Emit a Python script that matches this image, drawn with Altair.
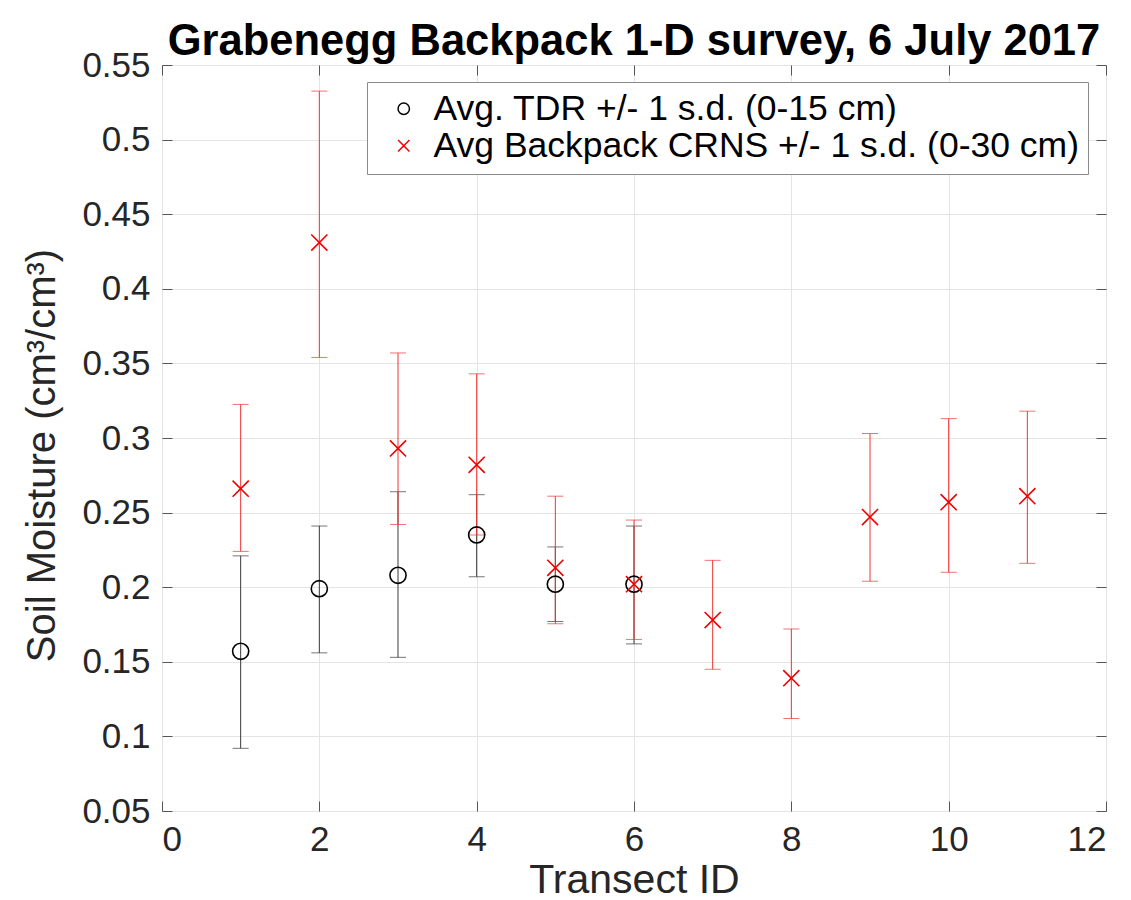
import altair as alt
import pandas as pd

# ---- data ----
series_names = ["Avg. TDR +/- 1 s.d. (0-15 cm)", "Avg Backpack CRNS +/- 1 s.d. (0-30 cm)"]

tdr_transect = [1, 2, 3, 4, 5, 6]
tdr_mean = [0.157, 0.199, 0.208, 0.235, 0.202, 0.202]
tdr_lower = [0.092, 0.156, 0.153, 0.207, 0.177, 0.162]
tdr_upper = [0.221, 0.241, 0.264, 0.262, 0.227, 0.241]

crns_transect = [1, 2, 3, 4, 5, 6, 7, 8, 9, 10, 11]
crns_mean = [0.266, 0.431, 0.293, 0.282, 0.213, 0.202, 0.178, 0.139, 0.247, 0.257, 0.261]
crns_lower = [0.224, 0.354, 0.242, 0.235, 0.1755, 0.165, 0.145, 0.112, 0.204, 0.210, 0.216]
crns_upper = [0.3225, 0.5325, 0.357, 0.343, 0.261, 0.245, 0.218, 0.172, 0.303, 0.313, 0.318]

x_ticks = [0, 2, 4, 6, 8, 10, 12]
y_ticks = [0.05, 0.1, 0.15, 0.2, 0.25, 0.3, 0.35, 0.4, 0.45, 0.5, 0.55]

rows = []
for t, m, lo, hi in zip(tdr_transect, tdr_mean, tdr_lower, tdr_upper):
    rows.append({"series": series_names[0], "transect": t, "mean": m, "lower": lo, "upper": hi})
for t, m, lo, hi in zip(crns_transect, crns_mean, crns_lower, crns_upper):
    rows.append({"series": series_names[1], "transect": t, "mean": m, "lower": lo, "upper": hi})
df = pd.DataFrame(rows)

FONT = "Liberation Sans"
X_PATH = "M-1,-1L1,1M-1,1L1,-1"
series_colors = ["#000000", "#f00000"]
bar_colors = ["#3a3a3a", "#f03434"]
color_scale = alt.Scale(domain=series_names, range=series_colors)
shape_scale = alt.Scale(domain=series_names, range=["circle", X_PATH])

x_scale = alt.Scale(domain=[0, 12], nice=False, zero=False)
y_scale = alt.Scale(domain=[0.05, 0.55], nice=False, zero=False)

TICK = 10

main_x_axis = alt.Axis(
    values=x_ticks, title="Transect ID", titleFontSize=41, titleFontWeight="normal",
    titleFont=FONT, titleColor="#262626", titlePadding=3,
    labelFont=FONT, labelFontSize=35, labelColor="#262626", labelPadding=11,
    offset=-TICK, tickSize=TICK, tickColor="#555555", domain=False,
    grid=True, gridColor="#e4e4e4", gridWidth=1,
)
main_y_axis = alt.Axis(
    values=y_ticks, format="~g", title="Soil Moisture (cm³/cm³)", titleFontSize=40,
    titleFontWeight="normal", titleFont=FONT, titleColor="#262626", titlePadding=19,
    titleY=390,
    labelFont=FONT, labelFontSize=35, labelColor="#262626", labelPadding=12,
    offset=-TICK, tickSize=TICK, tickColor="#555555", domain=False,
    grid=True, gridColor="#e4e4e4", gridWidth=1,
)
top_axis = alt.Axis(orient="top", values=x_ticks, labels=False, title=None, grid=False,
                    domain=False, offset=-TICK, tickSize=TICK, tickColor="#555555")
right_axis = alt.Axis(orient="right", values=y_ticks, labels=False, title=None, grid=False,
                      domain=False, offset=-TICK, tickSize=TICK, tickColor="#555555")

base = alt.Chart(df)

layers = []
for name, col in zip(series_names, bar_colors):
    sub = base.transform_filter(alt.datum.series == name)
    layers.append(sub.mark_rule(strokeWidth=1, color=col).encode(
        x=alt.X("transect:Q", scale=x_scale, axis=None),
        y=alt.Y("lower:Q", scale=y_scale, axis=None),
        y2="upper:Q",
    ))
    layers.append(sub.mark_tick(orient="horizontal", size=16, thickness=1, color=col).encode(
        x=alt.X("transect:Q", scale=x_scale, axis=None),
        y=alt.Y("lower:Q", scale=y_scale, axis=None),
    ))
    layers.append(sub.mark_tick(orient="horizontal", size=16, thickness=1, color=col).encode(
        x=alt.X("transect:Q", scale=x_scale, axis=None),
        y=alt.Y("upper:Q", scale=y_scale, axis=None),
    ))

legend = alt.Legend(
    orient="none", legendX=205, legendY=17, title=None,
    labelFont=FONT, labelFontSize=35.5, labelColor="#000000", labelLimit=2000,
    labelOffset=12, symbolOffset=10, padding=9, rowPadding=0,
    strokeColor="#8a8a8a", fillColor="white", symbolSize=130, symbolStrokeWidth=1.5,
)

points = base.mark_point(filled=False, size=260, strokeWidth=1.6, opacity=1).encode(
    x=alt.X("transect:Q", scale=x_scale, axis=main_x_axis),
    y=alt.Y("mean:Q", scale=y_scale, axis=main_y_axis),
    color=alt.Color("series:N", scale=color_scale, legend=legend),
    shape=alt.Shape("series:N", scale=shape_scale, legend=legend),
)
layers.append(points)

ghost = base.mark_point(opacity=0).encode(
    x=alt.X("transect:Q", scale=x_scale, axis=top_axis),
    y=alt.Y("mean:Q", scale=y_scale, axis=right_axis),
)
layers.append(ghost)

chart = alt.layer(*layers).resolve_axis(
    x="independent", y="independent"
).properties(
    width=944, height=746,
    title=alt.Title("Grabenegg Backpack 1-D survey, 6 July 2017", font=FONT, fontSize=43.5,
                    fontWeight="bold", color="#000000", anchor="middle", frame="group",
                    offset=6, dy=22),
    autosize=alt.AutoSizeParams(type="none"),
    padding={"left": 154, "top": 57, "right": 17, "bottom": 90},
).configure_view(
    stroke="#808080", strokeWidth=1.5
).configure(background="white")

chart.save("out.html", embed_options={"renderer": "svg", "actions": False})
